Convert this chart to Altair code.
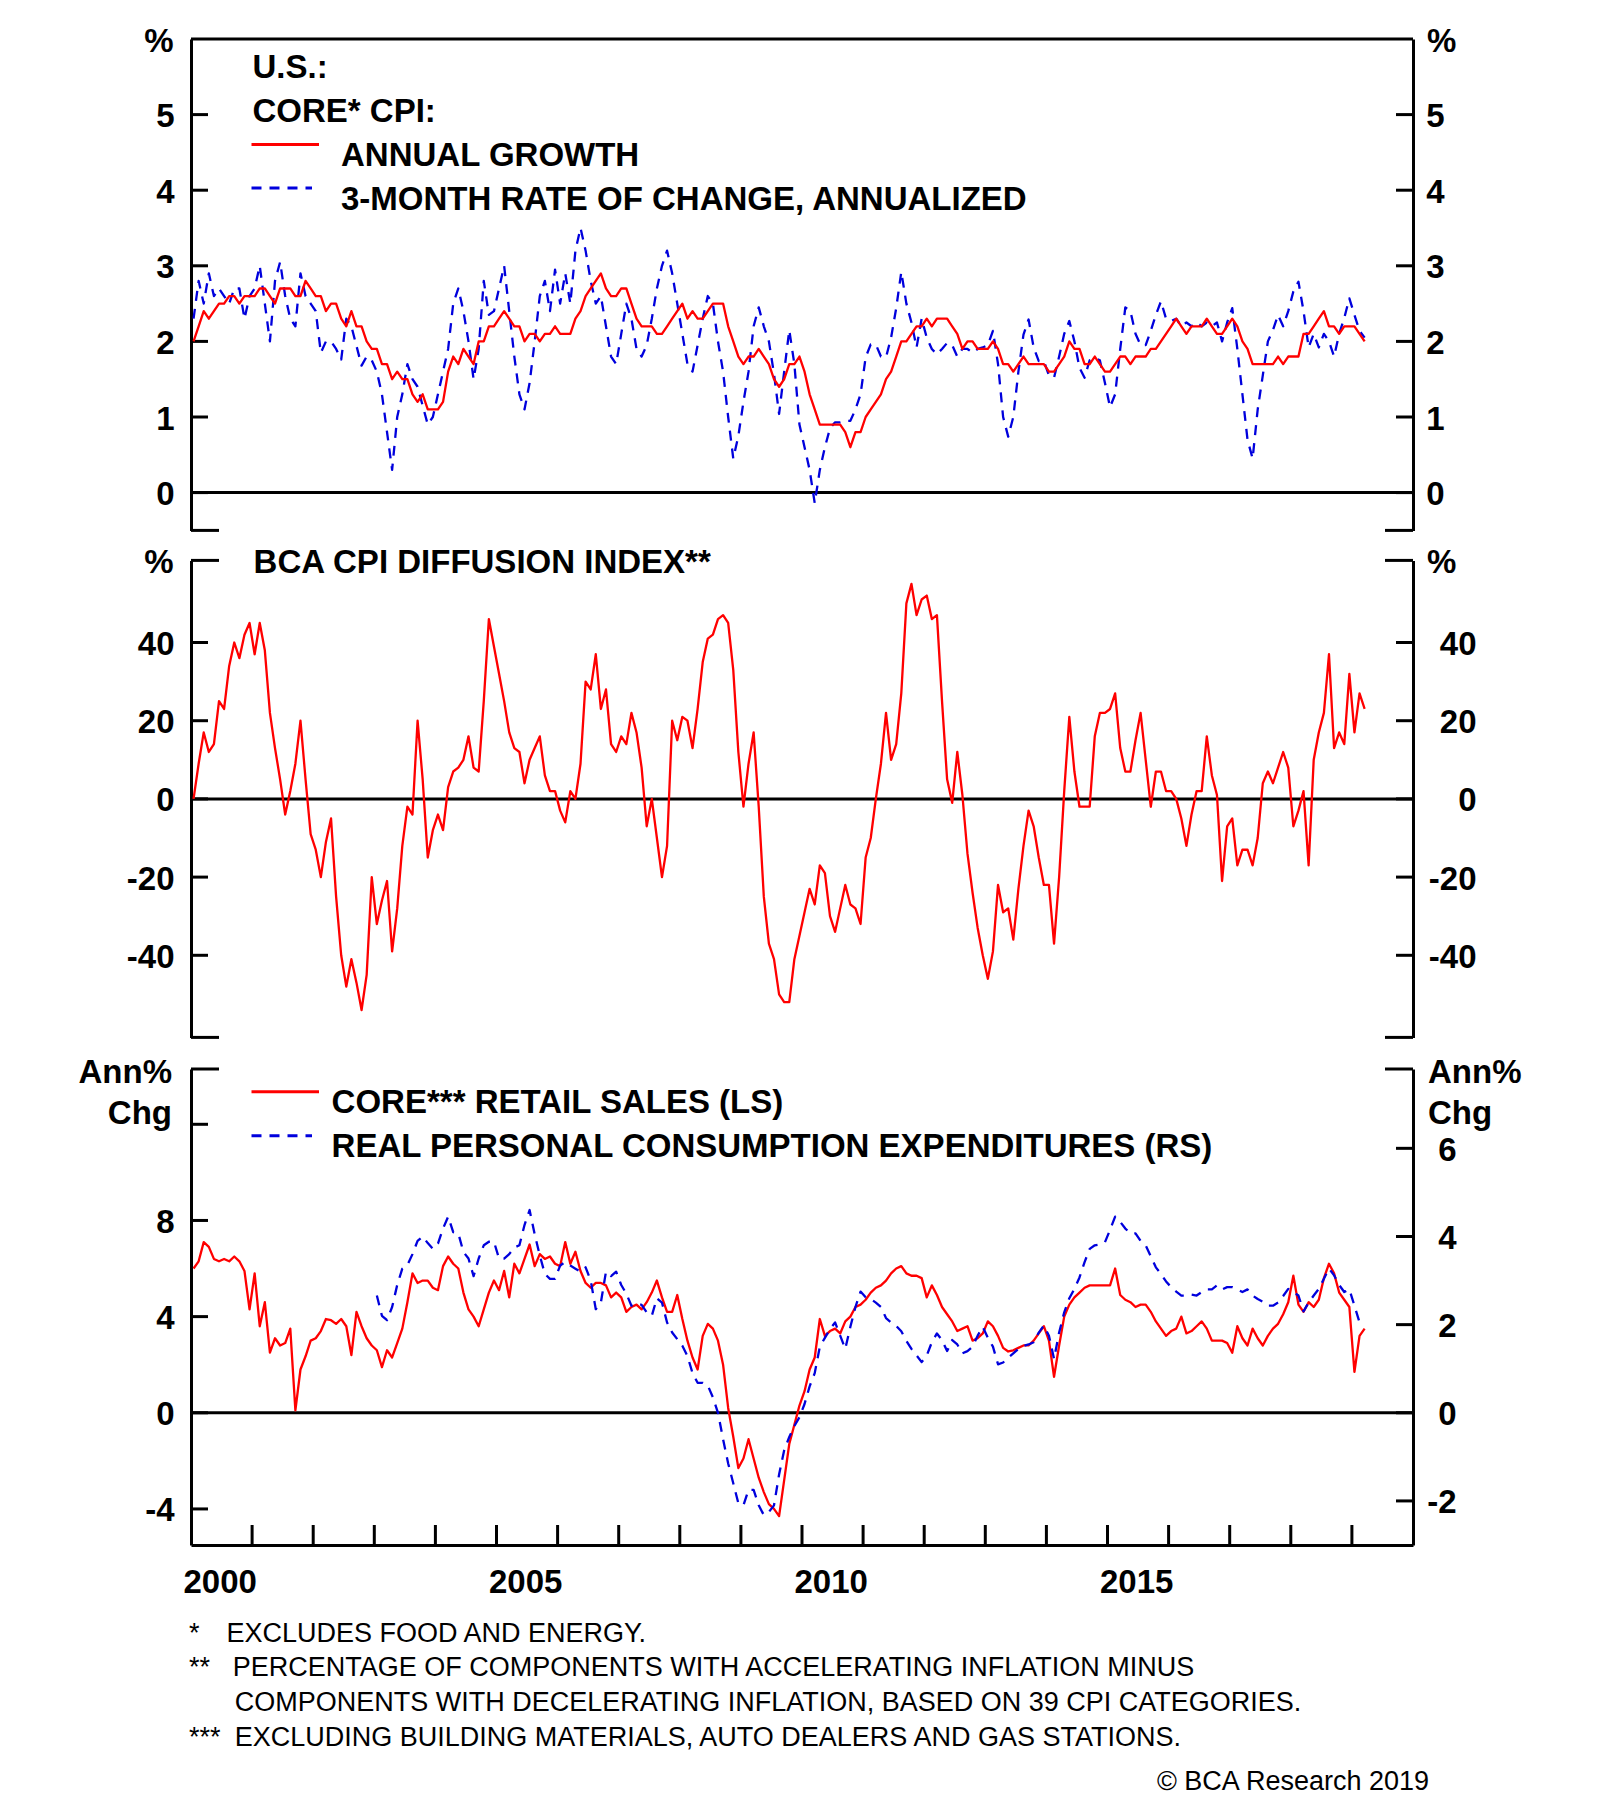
import altair as alt
import pandas as pd

# ---------------- data: monthly, Jan-2000 .. Mar-2019 ----------------
core_cpi_annual = [
    2.0, 2.2, 2.4, 2.3, 2.4, 2.5, 2.5, 2.6, 2.6, 2.5, 2.6, 2.6,
    2.6, 2.7, 2.7, 2.6, 2.5, 2.7, 2.7, 2.7, 2.6, 2.6, 2.8, 2.7,
    2.6, 2.6, 2.4, 2.5, 2.5, 2.3, 2.2, 2.4, 2.2, 2.2, 2.0, 1.9,
    1.9, 1.7, 1.7, 1.5, 1.6, 1.5, 1.5, 1.3, 1.2, 1.3, 1.1, 1.1,
    1.1, 1.2, 1.6, 1.8, 1.7, 1.9, 1.8, 1.7, 2.0, 2.0, 2.2, 2.2,
    2.3, 2.4, 2.3, 2.2, 2.2, 2.0, 2.1, 2.1, 2.0, 2.1, 2.1, 2.2,
    2.1, 2.1, 2.1, 2.3, 2.4, 2.6, 2.7, 2.8, 2.9, 2.7, 2.6, 2.6,
    2.7, 2.7, 2.5, 2.3, 2.2, 2.2, 2.2, 2.1, 2.1, 2.2, 2.3, 2.4,
    2.5, 2.3, 2.4, 2.3, 2.3, 2.4, 2.5, 2.5, 2.5, 2.2, 2.0, 1.8,
    1.7, 1.8, 1.8, 1.9, 1.8, 1.7, 1.5, 1.4, 1.5, 1.7, 1.7, 1.8,
    1.6, 1.3, 1.1, 0.9, 0.9, 0.9, 0.9, 0.9, 0.8, 0.6, 0.8, 0.8,
    1.0, 1.1, 1.2, 1.3, 1.5, 1.6, 1.8, 2.0, 2.0, 2.1, 2.2, 2.2,
    2.3, 2.2, 2.3, 2.3, 2.3, 2.2, 2.1, 1.9, 2.0, 2.0, 1.9, 1.9,
    1.9, 2.0, 1.9, 1.7, 1.7, 1.6, 1.7, 1.8, 1.7, 1.7, 1.7, 1.7,
    1.6, 1.6, 1.7, 1.8, 2.0, 1.9, 1.9, 1.7, 1.7, 1.8, 1.7, 1.6,
    1.6, 1.7, 1.8, 1.8, 1.7, 1.8, 1.8, 1.8, 1.9, 1.9, 2.0, 2.1,
    2.2, 2.3, 2.2, 2.1, 2.2, 2.2, 2.2, 2.3, 2.2, 2.1, 2.1, 2.2,
    2.3, 2.2, 2.0, 1.9, 1.7, 1.7, 1.7, 1.7, 1.7, 1.8, 1.7, 1.8,
    1.8, 1.8, 2.1, 2.1, 2.2, 2.3, 2.4, 2.2, 2.2, 2.1, 2.2, 2.2,
    2.2, 2.1, 2.0,
]

core_cpi_3m = [
    2.3, 2.8, 2.5, 2.9, 2.6, 2.7, 2.6, 2.5, 2.7, 2.7, 2.3, 2.6,
    2.7, 3.0, 2.5, 2.0, 2.8, 3.05, 2.6, 2.3, 2.2, 2.9, 2.6, 2.5,
    2.4, 1.85, 2.0, 2.0, 1.9, 1.76, 2.3, 2.2, 1.94, 1.68, 1.8, 1.75,
    1.6, 1.3, 0.8, 0.3, 1.0, 1.3, 1.7, 1.5, 1.4, 1.15, 0.9, 1.0,
    1.3, 1.6, 1.9, 2.5, 2.7, 2.4, 2.0, 1.5, 1.9, 2.8, 2.35, 2.4,
    2.7, 3.0, 2.4, 1.8, 1.3, 1.1, 1.45, 2.0, 2.6, 2.8, 2.4, 2.95,
    2.5, 2.9, 2.5, 3.2, 3.5, 3.2, 2.8, 2.5, 2.6, 2.2, 1.8, 1.7,
    2.1, 2.5, 2.3, 1.9, 1.8, 1.95, 2.3, 2.7, 3.0, 3.2, 2.9, 2.5,
    2.1, 1.7, 1.6, 1.95, 2.3, 2.6, 2.5, 2.0, 1.6, 1.0, 0.45, 0.75,
    1.2, 1.6, 2.2, 2.45, 2.2, 2.0, 1.57, 1.04, 1.6, 2.15, 1.7, 0.9,
    0.6, 0.3, -0.14, 0.3, 0.6, 0.85, 0.93, 0.93, 0.95, 0.95, 1.1, 1.3,
    1.79, 1.96, 1.96, 1.8, 1.79, 2.05, 2.44, 2.92, 2.5, 2.25, 1.92, 2.3,
    2.05, 1.9, 1.83, 1.9, 1.98, 1.95, 1.8, 1.9, 1.9, 1.85, 1.9, 1.92,
    1.95, 2.14, 1.7, 1.0, 0.74, 1.0, 1.6, 2.09, 2.29, 1.92, 1.74, 1.74,
    1.55, 1.52, 1.8, 2.1, 2.27, 2.0, 1.65, 1.52, 1.75, 1.78, 1.75, 1.45,
    1.13, 1.3, 1.9, 2.45, 2.4, 2.1, 1.95, 1.95, 2.14, 2.35, 2.53, 2.3,
    2.27, 2.3, 2.2, 2.25, 2.2, 2.25, 2.2, 2.25, 2.2, 2.25, 2.0, 2.25,
    2.44, 1.9, 1.3, 0.7, 0.45, 1.1, 1.55, 2.0, 2.15, 2.35, 2.2, 2.4,
    2.66, 2.79, 2.4, 1.92, 2.1, 1.92, 2.1, 2.0, 1.8, 2.1, 2.31, 2.57,
    2.35, 2.14, 2.05,
]

cpi_diffusion = [
    0, 9, 17, 12, 14, 25, 23, 34, 40, 36, 42, 45,
    37, 45, 38, 22, 13, 5, -4, 2, 9, 20, 5, -9,
    -13, -20, -11, -5, -25, -40, -48, -41, -47, -54, -45, -20,
    -32, -26, -21, -39, -28, -12, -2, -4, 20, 5, -15, -8,
    -4, -8, 3, 7, 8, 10, 16, 8, 7, 25, 46, 39,
    32, 25, 17, 13, 12, 4, 10, 13, 16, 6, 2, 2,
    -3, -6, 2, 0, 9, 30, 28, 37, 23, 28, 14, 12,
    16, 14, 22, 17, 8, -7, 0, -10, -20, -12, 20, 15,
    21, 20, 13, 23, 35, 41, 42, 46, 47, 45, 33, 12,
    -2, 9, 17, -2, -25, -37, -41, -50, -52, -52, -41, -35,
    -29, -23, -27, -17, -19, -30, -34, -28, -22, -27, -28, -32,
    -15, -10, 0, 9, 22, 10, 14, 27, 50, 55, 47, 51,
    52, 46, 47, 25, 5, -1, 12, 1, -14, -24, -33, -40,
    -46, -39, -22, -29, -28, -36, -23, -12, -3, -7, -15, -22,
    -22, -37, -20, 2, 21, 7, -2, -2, -2, 16, 22, 22,
    23, 27, 13, 7, 7, 15, 22, 10, -2, 7, 7, 2,
    2, 0, -5, -12, -4, 2, 2, 16, 6, 1, -21, -7,
    -5, -17, -13, -13, -17, -10, 4, 7, 4, 8, 12, 8,
    -7, -3, 2, -17, 10, 17, 22, 37, 13, 17, 14, 32,
    17, 27, 23,
]

core_retail_sales = [
    6.0, 6.3, 7.1, 6.9, 6.4, 6.3, 6.4, 6.3, 6.5, 6.3, 5.9, 4.3,
    5.8, 3.6, 4.6, 2.5, 3.1, 2.8, 2.9, 3.5, 0.1, 1.8, 2.35, 3.0,
    3.1, 3.4, 3.9, 3.85, 3.7, 3.9, 3.6, 2.4, 4.2, 3.6, 3.1, 2.8,
    2.6, 1.9, 2.6, 2.3, 2.9, 3.5, 4.6, 5.8, 5.4, 5.5, 5.5, 5.2,
    5.1, 6.1, 6.5, 6.2, 6.0, 5.0, 4.3, 4.0, 3.6, 4.3, 5.0, 5.5,
    5.1, 5.9, 4.8, 6.2, 5.8, 6.4, 7.0, 6.1, 6.6, 6.4, 6.5, 6.2,
    6.1, 7.1, 6.2, 6.7, 5.9, 5.4, 5.2, 5.4, 5.4, 5.3, 4.8, 5.0,
    4.8, 4.2, 4.4, 4.5, 4.3, 4.6, 5.0, 5.5, 4.8, 4.2, 4.2, 4.9,
    3.9, 3.0, 2.3, 1.8, 3.2, 3.7, 3.5, 3.0, 2.0, 0.2, -1.0, -2.3,
    -1.9, -1.1, -1.9, -2.7, -3.3, -3.8, -4.0, -4.3, -2.8, -1.3, -0.5, 0.3,
    0.9, 1.8, 2.3, 3.9, 3.2, 3.4, 3.5, 3.3, 3.8, 4.0, 4.4, 4.5,
    4.7, 5.0, 5.2, 5.3, 5.5, 5.8, 6.0, 6.1, 5.8, 5.7, 5.7, 5.6,
    4.8, 5.3, 4.9, 4.4, 4.1, 3.8, 3.4, 3.5, 3.6, 3.0, 3.1, 3.3,
    3.8, 3.6, 3.2, 2.7, 2.55, 2.6, 2.7, 2.8, 2.8, 3.0, 3.3, 3.6,
    3.0, 1.5, 2.8, 4.0, 4.5, 4.8, 5.0, 5.2, 5.3, 5.3, 5.3, 5.3,
    5.3, 6.0, 4.9, 4.7, 4.6, 4.4, 4.5, 4.5, 4.2, 3.8, 3.5, 3.2,
    3.4, 3.5, 4.0, 3.3, 3.4, 3.6, 3.8, 3.5, 3.0, 3.0, 3.0, 2.9,
    2.5, 3.6, 3.1, 2.8, 3.5, 3.1, 2.8, 3.2, 3.5, 3.7, 4.1, 4.6,
    5.7, 4.5, 4.2, 4.6, 4.4, 4.7, 5.6, 6.2, 5.8, 5.0, 4.7, 4.4,
    1.7, 3.2, 3.5,
]

# real personal consumption expenditures, Jan-2003 .. Feb-2019
real_pce = [
    2.66, 2.2, 2.1, 2.4, 2.9, 3.27, 3.35, 3.6, 3.9, 4.0, 3.85, 3.72,
    3.84, 4.18, 4.45, 4.1, 4.07, 3.65, 3.5, 3.1, 3.5, 3.8, 3.88, 3.88,
    3.5, 3.5, 3.6, 3.75, 3.8, 4.26, 4.6, 4.05, 3.57, 3.15, 3.04, 3.04,
    3.34, 3.42, 3.34, 3.27, 3.2, 3.3, 3.0, 2.35, 2.5, 3.2, 3.1, 3.2,
    2.9, 2.7, 2.43, 2.48, 2.45, 2.28, 2.2, 2.6, 2.5, 2.05, 1.82, 1.67,
    1.52, 1.29, 0.9, 0.68, 0.68, 0.62, 0.35, 0.0, -0.6, -1.15, -1.6, -2.05,
    -2.1, -1.75, -1.75, -2.1, -2.32, -2.25, -2.1, -1.4, -0.85, -0.55, -0.3, -0.1,
    0.2, 0.6, 0.9, 1.5, 1.7, 1.9, 2.05, 1.75, 1.45, 1.95, 2.4, 2.75,
    2.62, 2.58, 2.5, 2.4, 2.15, 2.05, 1.97, 1.85, 1.63, 1.45, 1.3, 1.15,
    1.3, 1.6, 1.8, 1.65, 1.4, 1.65, 1.55, 1.35, 1.4, 1.5, 1.75, 1.95,
    1.7, 1.5, 1.1, 1.14, 1.25, 1.35, 1.45, 1.52, 1.55, 1.6, 1.82, 1.98,
    1.75, 1.22, 1.82, 2.28, 2.6, 2.81, 3.07, 3.42, 3.72, 3.8, 3.82, 3.87,
    4.15, 4.45, 4.33, 4.18, 4.07, 4.07, 3.9, 3.8, 3.55, 3.3, 3.15, 2.98,
    2.85, 2.75, 2.66, 2.66, 2.68, 2.66, 2.74, 2.8, 2.8, 2.89, 2.8, 2.85,
    2.85, 2.8, 2.74, 2.8, 2.66, 2.58, 2.52, 2.43, 2.43, 2.5, 2.65, 2.81,
    2.74, 2.66, 2.3, 2.5, 2.66, 2.81, 3.04, 3.27, 3.12, 2.9, 2.74, 2.8,
    2.43, 2.05,
]

# tick values / labels
p1_ticks = [0, 1, 2, 3, 4, 5]
p2_ticks = [-40, -20, 0, 20, 40]
p3_left_ticks = [-4, 0, 4, 8, 12]
p3_left_labels = [-4, 0, 4, 8]
p3_right_ticks = [-2, 0, 2, 4, 6]
year_ticks = list(range(2001, 2020))
year_labels = [2000, 2005, 2010, 2015]

# ---------------- layout / style ----------------
FONT = "Liberation Sans"
BIG = 33
SMALL = 27
RED = "#ff0000"
BLUE = "#0000dd"
W = 1222
H = 1506
TICK = 17
END_TICK = 28
XTICK = 20
AXW = 3
DASH = [10, 8]

P1_DOM, P1_RNG = [-0.5, 6], [491.4, 0]
P2_DOM, P2_RNG = [-61, 61], [998.4, 521.4]
P3L_DOM, P3R_DOM, P3_RNG = [-5.5, 14.3], [-3, 7.8], [1506, 1030]


def monthly(values, start_year):
    return pd.DataFrame({
        "year": [start_year + (i + 0.5) / 12 for i in range(len(values))],
        "v": values,
    })


df_cpi_a = monthly(core_cpi_annual, 2000)
df_cpi_3m = monthly(core_cpi_3m, 2000)
df_diff = monthly(cpi_diffusion, 2000)
df_retail = monthly(core_retail_sales, 2000)
df_pce = monthly(real_pce, 2003)

XSCALE = alt.Scale(domain=[2000, 2020], nice=False, zero=False)


def yscale(dom, rng):
    return alt.Scale(domain=dom, range=rng, nice=False, zero=False)


S1 = yscale(P1_DOM, P1_RNG)
S2 = yscale(P2_DOM, P2_RNG)
S3L = yscale(P3L_DOM, P3_RNG)
S3R = yscale(P3R_DOM, P3_RNG)

LABEL_EXPR = "datum.value < 0 ? '-' + abs(datum.value) : '' + datum.value"


def y_axis(orient, values, pad):
    return alt.Axis(
        orient=orient, values=values, ticks=False, tickSize=0, grid=False,
        domain=True, domainColor="black", domainWidth=AXW,
        labelFont=FONT, labelFontSize=BIG, labelFontWeight="bold",
        labelColor="black", labelAlign="right", labelBaseline="middle",
        labelPadding=pad, labelOffset=2, labelFlush=False, labelOverlap=False,
        labelExpr=LABEL_EXPR, title=None,
    )


def line(df, scale, color, dash=None):
    kw = dict(color=color, strokeWidth=2.3, strokeJoin="round")
    if dash:
        kw["strokeDash"] = dash
    return alt.Chart(df).mark_line(**kw).encode(
        x=alt.X("year:Q", scale=XSCALE, axis=None),
        y=alt.Y("v:Q", scale=scale, axis=None),
    )


def hrules(values, scale, x0, x1, axis=None):
    return alt.Chart(pd.DataFrame({"v": values})).mark_rule(
        color="black", strokeWidth=AXW
    ).encode(
        y=alt.Y("v:Q", scale=scale, axis=axis),
        x=alt.value(x0), x2=alt.value(x1),
    )


def txt(s, x, y, size=BIG, weight="bold", align="left"):
    return alt.Chart(pd.DataFrame({"t": [s]})).mark_text(
        font=FONT, fontSize=size, fontWeight=weight, color="black",
        align=align, baseline="middle",
    ).encode(text="t:N", x=alt.value(x), y=alt.value(y))


def seg(x0, x1, y, color, dash=None):
    kw = dict(color=color, strokeWidth=3)
    if dash:
        kw["strokeDash"] = dash
    return alt.Chart(pd.DataFrame({"k": [0]})).mark_rule(**kw).encode(
        x=alt.value(x0), x2=alt.value(x1), y=alt.value(y))


# ---------------- panel 1: core CPI ----------------
p1 = alt.layer(
    hrules([0], S1, 0, W),
    hrules(p1_ticks, S1, 0, TICK, axis=y_axis("left", p1_ticks, 17)),
    hrules(p1_ticks, S1, W - TICK, W, axis=y_axis("right", p1_ticks, 31)),
    hrules([P1_DOM[0]], S1, 0, END_TICK),
    hrules([P1_DOM[0]], S1, W - END_TICK, W),
    line(df_cpi_3m, S1, BLUE, DASH),
    line(df_cpi_a, S1, RED),
).resolve_axis(y="independent")

# ---------------- panel 2: diffusion index ----------------
p2 = alt.layer(
    hrules([0], S2, 0, W),
    hrules(p2_ticks, S2, 0, TICK, axis=y_axis("left", p2_ticks, 17)),
    hrules(p2_ticks, S2, W - TICK, W, axis=y_axis("right", p2_ticks, 63)),
    hrules(P2_DOM, S2, 0, END_TICK),
    hrules(P2_DOM, S2, W - END_TICK, W),
    line(df_diff, S2, RED),
).resolve_axis(y="independent")

# ---------------- panel 3: retail sales (LS) & real PCE (RS) ----------------
p3l = alt.layer(
    hrules([0], S3L, 0, W),
    hrules(p3_left_ticks, S3L, 0, TICK, axis=y_axis("left", p3_left_labels, 17)),
    hrules([P3L_DOM[1]], S3L, 0, END_TICK),
    line(df_retail, S3L, RED),
).resolve_axis(y="independent")
p3r = alt.layer(
    hrules(p3_right_ticks, S3R, W - TICK, W, axis=y_axis("right", p3_right_ticks, 43)),
    hrules([P3R_DOM[1]], S3R, W - END_TICK, W),
    line(df_pce, S3R, BLUE, DASH),
).resolve_axis(y="independent")

# ---------------- x axis (year ticks inward, labels mid-year) ----------------
x_axis = alt.Axis(
    orient="bottom", values=[y + 0.47 for y in year_labels],
    labelExpr="floor(datum.value)", ticks=False, tickSize=0, grid=False,
    domain=True, domainColor="black", domainWidth=AXW,
    labelFont=FONT, labelFontSize=BIG, labelFontWeight="bold", labelColor="black",
    labelPadding=21, labelFlush=False, labelOverlap=False, title=None,
)
xticks = alt.Chart(pd.DataFrame({"year": year_ticks})).mark_rule(
    color="black", strokeWidth=AXW
).encode(
    x=alt.X("year:Q", scale=XSCALE, axis=x_axis),
    y=alt.value(H - XTICK), y2=alt.value(H),
)

top_frame = seg(0, W, 0, "black")

anchor = alt.Chart(pd.DataFrame({"k": [0]})).mark_rule(color="white", strokeWidth=1).encode(
    x=alt.value(-182.5), x2=alt.value(-182.5), y=alt.value(-30.5), y2=alt.value(-30.5))

decor = [
    # panel 1 header / legend
    txt("U.S.:", 61.5, 29),
    txt("CORE* CPI:", 61.5, 73),
    seg(60.5, 128, 105.6, RED),
    txt("ANNUAL GROWTH", 150, 117.3),
    seg(60.5, 121, 149, BLUE, DASH),
    txt("3-MONTH RATE OF CHANGE, ANNUALIZED", 150, 160.5),
    txt("%", -17.5, 3, align="right"),
    txt("%", W + 14, 3),
    # panel 2
    txt("BCA CPI DIFFUSION INDEX**", 62.6, 523.6),
    txt("%", -17.5, 523.5, align="right"),
    txt("%", W + 14, 523.5),
    # panel 3
    seg(60.5, 128, 1052.8, RED),
    txt("CORE*** RETAIL SALES (LS)", 140.6, 1063.7),
    seg(60.5, 121, 1096.7, BLUE, DASH),
    txt("REAL PERSONAL CONSUMPTION EXPENDITURES (RS)", 140.6, 1108),
    txt("Ann%", -19, 1033.5, align="right"),
    txt("Chg", -19, 1074.5, align="right"),
    txt("Ann%", W + 15, 1033.5),
    txt("Chg", W + 15, 1074.5),
    # footnotes
    txt("*", -2, 1594.6, size=SMALL, weight="normal"),
    txt("EXCLUDES FOOD AND ENERGY.", 35.5, 1594.6, size=SMALL, weight="normal"),
    txt("**", -2, 1628.6, size=SMALL, weight="normal"),
    txt("PERCENTAGE OF COMPONENTS WITH ACCELERATING INFLATION MINUS", 41.7, 1628.6,
        size=SMALL, weight="normal"),
    txt("COMPONENTS WITH DECELERATING INFLATION, BASED ON 39 CPI CATEGORIES.", 43.7, 1663.6,
        size=SMALL, weight="normal"),
    txt("***", -2, 1698.6, size=SMALL, weight="normal"),
    txt("EXCLUDING BUILDING MATERIALS, AUTO DEALERS AND GAS STATIONS.", 43.7, 1698.6,
        size=SMALL, weight="normal"),
    txt("\u00a9 BCA Research 2019", 1238, 1742.6, size=SMALL, weight="normal", align="right"),
]

chart = alt.layer(
    p1, p2, p3l, p3r, xticks, top_frame, anchor, *decor
).resolve_scale(
    y="independent"
).resolve_axis(
    x="independent", y="independent"
).properties(
    width=W, height=H, padding=0, background="white"
).configure_view(stroke=None)

chart.save("out.html", embed_options={"renderer": "svg", "actions": False})
